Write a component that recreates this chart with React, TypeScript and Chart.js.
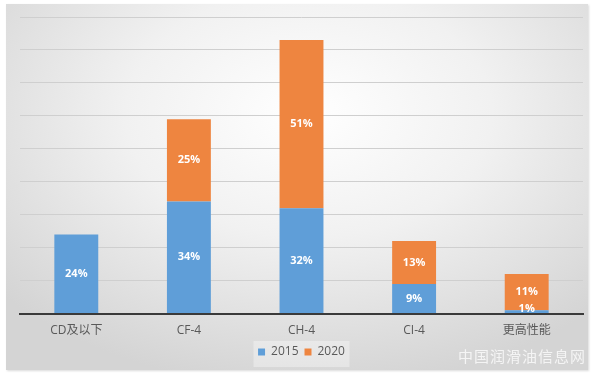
import React, { useEffect, useRef } from "react";
import { Chart, registerables } from "chart.js";

Chart.register(...registerables);

const categories = ["CD及以下", "CF-4", "CH-4", "CI-4", "更高性能"];
const series2015 = [24, 34, 32, 9, 1];
const series2020 = [0, 25, 51, 13, 11];
const seriesNames = ["2015", "2020"];
const yMax = 90;
const yStep = 10;

const labelPlugin = {
  id: "segLabels",
  afterDatasetsDraw(chart: any) {
    const ctx = chart.ctx;
    ctx.save();
    ctx.font = "bold 11px 'Open Sans', 'Noto Sans', sans-serif";
    ctx.textAlign = "center";
    ctx.textBaseline = "middle";
    chart.data.datasets.forEach((ds: any, di: number) => {
      const meta = chart.getDatasetMeta(di);
      meta.data.forEach((el: any, i: number) => {
        const v = ds.data[i];
        if (!v) return;
        const top = el.y;
        const bottom = el.base;
        let y = (top + bottom) / 2;
        if (bottom - top < 12) y = bottom - 4;
        ctx.fillStyle = "#ffffff";
        ctx.fillText(v + "%", el.x, y);
      });
    });
    ctx.restore();
  },
};

const legendBgPlugin = {
  id: "legendBg",
  beforeDraw(chart: any) {
    const lg = chart.legend;
    if (!lg) return;
    const ctx = chart.ctx;
    ctx.save();
    ctx.fillStyle = "rgba(255,255,255,0.35)";
    ctx.fillRect(lg.left + lg.width / 2 - 48, lg.top + 1, 96, lg.height - 2);
    ctx.restore();
  },
};

export default function App() {
  const ref = useRef<HTMLCanvasElement>(null);
  useEffect(() => {
    const chart = new Chart(ref.current!, {
      type: "bar",
      data: {
        labels: categories,
        datasets: [
          {
            label: seriesNames[0],
            data: series2015,
            backgroundColor: "#5f9ed8",
            borderWidth: 0,
          },
          {
            label: seriesNames[1],
            data: series2020,
            backgroundColor: "#ee8540",
            borderWidth: 0,
          },
        ],
      },
      options: {
        animation: false,
        responsive: false,
        maintainAspectRatio: false,
        layout: { padding: { left: 14, right: 5, top: 13, bottom: 2 } },
        datasets: {
          bar: { categoryPercentage: 1, barPercentage: 0.39 },
        } as any,
        scales: {
          x: {
            stacked: true,
            grid: { display: false },
            border: { color: "#3a3a3a", width: 2 },
            ticks: {
              color: "#595959",
              font: { size: 12, family: "'Open Sans', 'Noto Sans CJK SC', sans-serif" },
              padding: 2,
            },
          },
          y: {
            stacked: true,
            min: 0,
            max: yMax,
            ticks: { display: false, stepSize: yStep },
            grid: { color: "#cfcfcf", drawTicks: false, lineWidth: 1 },
            border: { display: false },
          },
        },
        plugins: {
          legend: {
            position: "bottom",
            labels: {
              boxWidth: 7,
              boxHeight: 7,
              color: "#595959",
              font: { size: 12, family: "'Open Sans', 'Noto Sans', sans-serif" },
              padding: 6,
            },
          },
          tooltip: { enabled: false },
        },
      },
      plugins: [labelPlugin, legendBgPlugin],
    });
    return () => chart.destroy();
  }, []);

  return (
    <div
      style={{
        position: "fixed",
        left: 0,
        top: 0,
        width: 600,
        height: 379,
        background: "#ffffff",
        overflow: "hidden",
      }}
    >
      <div
        style={{
          position: "absolute",
          left: 6,
          top: 4,
          width: 582,
          height: 366,
          background:
            "radial-gradient(ellipse 70% 75% at 52% 30%, #ffffff 0%, #f1f1f1 45%, #d4d4d4 100%)",
          boxShadow: "1px 1px 2px rgba(0,0,0,0.15)",
        }}
      >
        <canvas ref={ref} width={582} height={366} style={{ display: "block" }} />
      </div>
      <div
        style={{
          position: "absolute",
          left: 458,
          top: 345,
          fontFamily: "'Noto Sans CJK SC', sans-serif",
          fontSize: 15,
          color: "rgba(255,255,255,0.75)",
          letterSpacing: 1,
          pointerEvents: "none",
        }}
      >
        中国润滑油信息网
      </div>
    </div>
  );
}
